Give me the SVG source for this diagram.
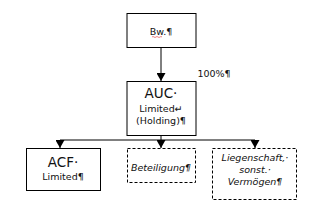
<svg xmlns="http://www.w3.org/2000/svg" width="319" height="218" viewBox="0 0 319 218">
<style>
.box{fill:#fff;stroke:#000;stroke-width:1}
.dash{fill:#fff;stroke:#000;stroke-width:1;stroke-dasharray:3,2}
.t{font-family:"DejaVu Sans","Liberation Sans",sans-serif;fill:#111;text-anchor:middle}
.big{font-size:13.5px}
.sm{font-size:9.5px}
.it{font-style:italic}
.ln{stroke:#000;stroke-width:1;fill:none}
</style>
<defs>
<marker id="ah" markerWidth="9" markerHeight="9" refX="8" refY="4.5" orient="auto" markerUnits="userSpaceOnUse">
<path d="M0,0 L8,4.5 L0,9 z" fill="#000"/>
</marker>
</defs>
<rect width="319" height="218" fill="#fff"/>
<g id="connectors">
<line class="ln" x1="161" y1="47" x2="161" y2="81" marker-end="url(#ah)"/>
<line class="ln" x1="161" y1="135" x2="161" y2="140"/>
<line class="ln" x1="60" y1="140" x2="255" y2="140"/>
<line class="ln" x1="60" y1="140" x2="60" y2="148" marker-end="url(#ah)"/>
<line class="ln" x1="161" y1="140" x2="161" y2="148" marker-end="url(#ah)"/>
<line class="ln" x1="255" y1="140" x2="255" y2="148" marker-end="url(#ah)"/>
</g>
<g id="bw">
<rect class="box" x="127" y="13.5" width="69" height="34"/>
<text class="t sm" x="161" y="35">Bw.¶</text>
<path d="M152,37 q1,-1 2,0 t2,0 t2,0 t2,0 t2,0" stroke="#e03030" stroke-width="0.6" fill="none"/>
</g>
<g id="auc">
<rect class="box" x="127" y="81.5" width="69" height="54"/>
<text class="t big" x="161" y="98">AUC·</text>
<text class="t sm" x="161" y="112">Limited↵</text>
<text class="t sm" x="161" y="124">(Holding)¶</text>
</g>
<text class="t sm" x="214" y="77">100%¶</text>
<g id="acf">
<rect class="box" x="26.5" y="148.5" width="74" height="42"/>
<text class="t big" x="63" y="167">ACF·</text>
<text class="t sm" x="63" y="180">Limited¶</text>
</g>
<g id="beteiligung">
<rect class="dash" x="127.5" y="148.5" width="68" height="34"/>
<text class="t sm it" x="161" y="171">Beteiligung¶</text>
</g>
<g id="liegenschaft">
<rect class="dash" x="212.5" y="148.5" width="84" height="51"/>
<text class="t sm it" x="255" y="161">Liegenschaft,·</text>
<text class="t sm it" x="255" y="173">sonst.·</text>
<text class="t sm it" x="255" y="185">Vermögen¶</text>
</g>
</svg>
